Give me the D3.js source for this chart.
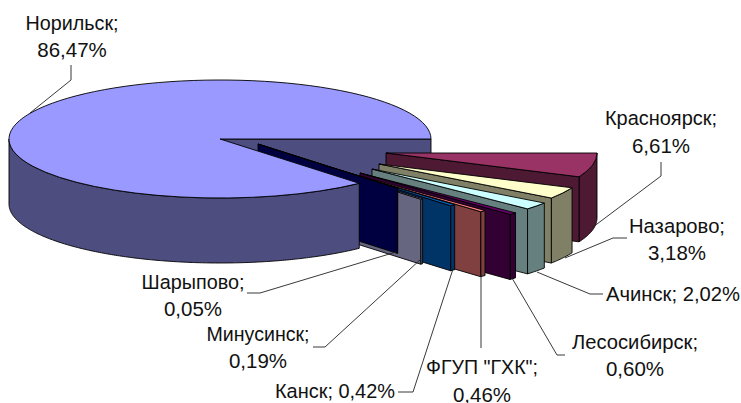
<!DOCTYPE html>
<html>
<head>
<meta charset="utf-8">
<script src="https://cdn.jsdelivr.net/npm/d3@7/dist/d3.min.js"></script>
<style>
html,body{margin:0;padding:0;background:#fff;overflow:hidden}
text{font-family:"Liberation Sans",Arial,sans-serif;font-size:20.5px;fill:#111}
</style>
</head>
<body>
<svg id="chart" width="741" height="403"></svg>
<script>
// Share of each city, clockwise from the three o'clock position
const cities = ["Красноярск","Назарово","Ачинск","Лесосибирск","ФГУП \"ГХК\"","Канск","Минусинск","Шарыпово","Норильск"];
const shares = [6.61,3.18,2.02,0.60,0.46,0.42,0.19,0.05,86.47];
const topColors  = ["#993366","#ffffcc","#ccffff","#660066","#ff8080","#0066cc","#ccccff","#000080","#9999ff"];
const sideColors = ["#4d1933","#808066","#668080","#330033","#804040","#003366","#666680","#000040","#4d4d80"];

// Pie geometry: centre, ellipse radii, wall height
const cx = 220, cy = 139, rx = 211, ry = 59, depth = 65;
// How far each wedge is pulled out of the pie
const offsetX = [166,159,152,140,115,89,61,38,0];
const offsetY = [14,25,30,34,30,23,16,5,0];

// Label lines with centre x and baseline of each line; the name line is fitted to a set width
const labelLines = [
  ["Красноярск;","6,61%"],["Назарово;","3,18%"],["Ачинск; 2,02%"],["Лесосибирск;","0,60%"],
  ["ФГУП \"ГХК\";","0,46%"],["Канск; 0,42%"],["Минусинск;","0,19%"],["Шарыпово;","0,05%"],["Норильск;","86,47%"]
];
const labelX = [661,677,673,635,482,335,258,193,72];
const labelY = [[125,153],[233,260],[301],[349,376],[374,402],[398],[341,368],[289,316],[30,57]];
const nameWidth = [112,96,134,126,112,120,103,103,93];
const leaders = [
  [[593,227],[661,176],[661,162]],
  [[565,258],[613,238],[627,238]],
  [[537,272],[590,294],[603,294]],
  [[512,278],[557,355],[565,355]],
  [[481,275],[481,348]],
  [[453,269],[413,392],[398,392]],
  [[421,259],[325,347],[313,347]],
  [[396,252],[260,293],[247,293]],
  [[30,113],[71,80],[71,65]]
];

const svg = d3.select("#chart");
const wedges = d3.pie().sort(null).startAngle(Math.PI/2).endAngle(Math.PI*2.5)(shares);
const line = d3.line();
const arc = d3.arc().innerRadius(0).outerRadius(rx);

const px = (a,i) => cx + offsetX[i] + rx*Math.sin(a);
const py = (a,i) => cy + offsetY[i] - ry*Math.cos(a);
const sample = (a0,a1) => {
  const n = Math.max(2, Math.ceil(Math.abs(a1-a0)*90));
  return d3.range(n+1).map(k => a0 + (a1-a0)*k/n);
};
const stroke = s => s.attr("stroke","#000").attr("stroke-width",0.9).attr("stroke-linejoin","round");

// Outer wall between two angles
function wall(g,a0,a1,i){
  const t = sample(a0,a1).map(a => [px(a,i),py(a,i)]);
  const b = t.slice().reverse().map(p => [p[0],p[1]+depth]);
  g.append("path").attr("d",line(t.concat(b))+"Z").attr("fill",sideColors[i]).call(stroke);
}
// Flat cut face running from the apex to the rim at one angle
function face(g,a,i){
  const ax = cx+offsetX[i], ay = cy+offsetY[i], ex = px(a,i), ey = py(a,i);
  g.append("path").attr("d",line([[ax,ay],[ex,ey],[ex,ey+depth],[ax,ay+depth]])+"Z")
    .attr("fill",sideColors[i]).call(stroke);
}
function lid(g,w,i){
  g.append("path")
    .attr("transform",`translate(${cx+offsetX[i]},${cy+offsetY[i]}) scale(1,${ry/rx})`)
    .attr("d",arc({startAngle:w.startAngle,endAngle:w.endAngle}))
    .attr("fill",topColors[i]).attr("stroke","#000").attr("stroke-width",0.9)
    .attr("vector-effect","non-scaling-stroke");
}

const main = wedges.length-1;
const plot = svg.append("g");

// Cut face of the large wedge sits behind everything
face(plot,wedges[main].endAngle,main);

// Small wedges, back to front
wedges.slice(0,main).forEach((w,i) => {
  const g = plot.append("g");
  wall(g,w.startAngle,w.endAngle,i);
  face(g,w.endAngle,i);
  lid(g,w,i);
});

// Large wedge last: visible wall and top
const gm = plot.append("g");
wall(gm,wedges[main].startAngle,Math.PI*1.5,main);
lid(gm,wedges[main],main);

// Leader lines
svg.append("g").selectAll("path").data(leaders).join("path")
  .attr("d",d => line(d)).attr("fill","none").attr("stroke","#222").attr("stroke-width",0.9);

// Labels: one text element per line
labelLines.forEach((lines,i) => {
  lines.forEach((t,k) => {
    const el = svg.append("text").attr("text-anchor","middle")
      .attr("x",labelX[i]).attr("y",labelY[i][k]).text(t);
    if (k === 0) el.attr("textLength",nameWidth[i]).attr("lengthAdjust","spacingAndGlyphs");
  });
});
</script>
</body>
</html>
